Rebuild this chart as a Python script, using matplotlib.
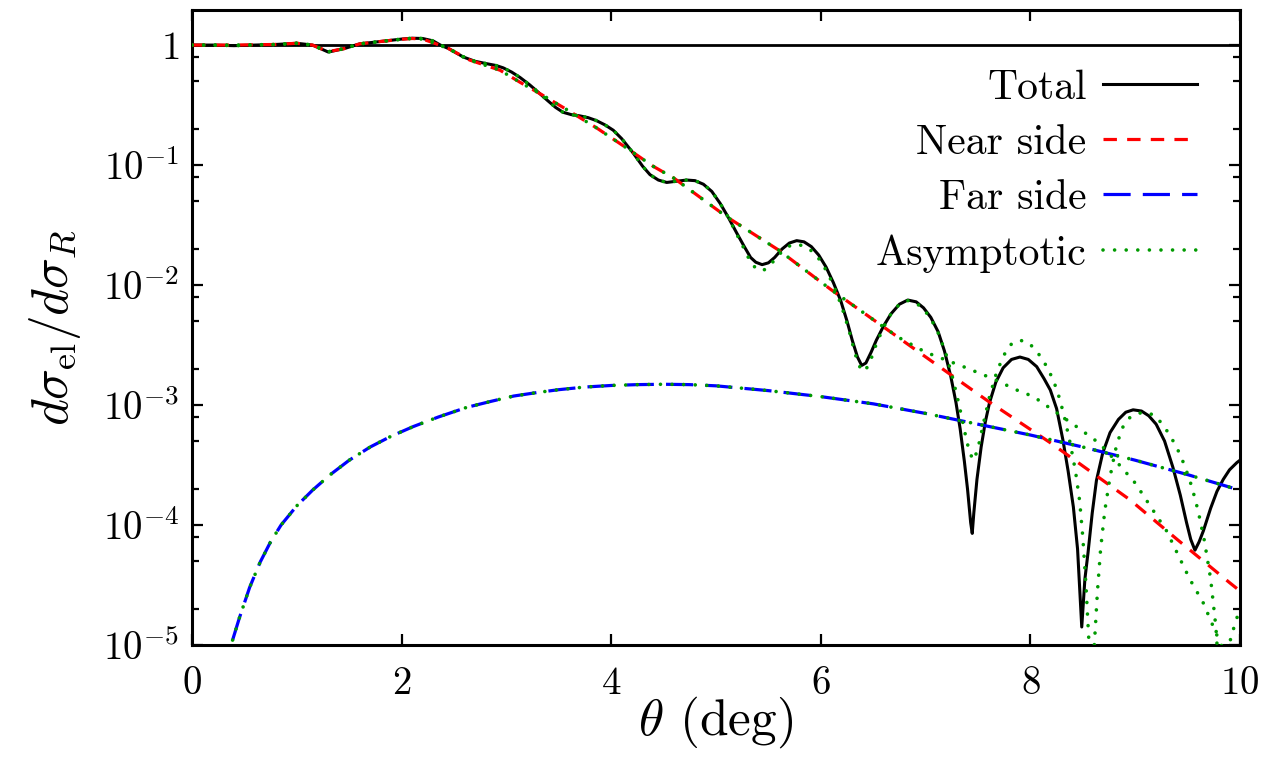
import numpy as np
import matplotlib
matplotlib.use("Agg")
import matplotlib.pyplot as plt
from matplotlib.ticker import FixedLocator, FuncFormatter, LogLocator, NullFormatter, NullLocator

plt.rcParams['font.family'] = 'serif'
plt.rcParams['font.serif'] = ['cmr10']
plt.rcParams['mathtext.fontset'] = 'cm'
plt.rcParams['axes.formatter.use_mathtext'] = True
plt.rcParams['axes.unicode_minus'] = False

# ---------------- data (log10 of dsigma_el/dsigma_R) ----------------
theta_total = [0.0, 0.2, 0.4, 0.6, 0.8, 1.0, 1.15, 1.3, 1.45, 1.6, 1.8, 2.0, 2.1, 2.2,
               2.3, 2.37, 2.45, 2.59, 2.7, 2.81, 2.9, 2.97, 3.05, 3.13, 3.22, 3.3, 3.39,
               3.47, 3.54, 3.62, 3.7, 3.78, 3.86, 3.94, 4.02, 4.1, 4.21, 4.3, 4.37, 4.45,
               4.53, 4.62, 4.72, 4.8, 4.88, 4.96, 5.04, 5.12, 5.2, 5.27, 5.33, 5.38, 5.44,
               5.5, 5.56, 5.63, 5.7, 5.77, 5.84, 5.91, 5.98, 6.05, 6.12, 6.19, 6.25, 6.3,
               6.35, 6.39, 6.43, 6.48, 6.53, 6.6, 6.67, 6.75, 6.83, 6.91, 6.98, 7.05, 7.12,
               7.18, 7.24, 7.29, 7.33, 7.37, 7.4, 7.43, 7.445, 7.46, 7.49, 7.53, 7.57, 7.61,
               7.67, 7.74, 7.82, 7.9, 7.98, 8.06, 8.13, 8.19, 8.25, 8.31, 8.36, 8.41, 8.45,
               8.49, 8.52, 8.55, 8.59, 8.63, 8.69, 8.76, 8.84, 8.91, 8.98, 9.06, 9.13, 9.2,
               9.28, 9.36, 9.43, 9.49, 9.53, 9.57, 9.61, 9.65, 9.72, 9.78, 9.84, 9.9, 9.97,
               10.0]
total_log10 = [0.0, 0.0, -0.005, 0.0, 0.005, 0.015, 0.0, -0.058, -0.03, 0.01, 0.03, 0.05,
               0.057, 0.055, 0.035, 0.0, -0.03, -0.1, -0.135, -0.155, -0.17, -0.19, -0.225,
               -0.27, -0.33, -0.39, -0.46, -0.52, -0.56, -0.58, -0.59, -0.605, -0.63,
               -0.665, -0.71, -0.78, -0.9, -1.01, -1.08, -1.125, -1.145, -1.135, -1.125,
               -1.13, -1.16, -1.22, -1.32, -1.44, -1.57, -1.68, -1.77, -1.81, -1.83, -1.815,
               -1.77, -1.7, -1.65, -1.63, -1.64, -1.68, -1.75, -1.85, -1.98, -2.13, -2.3,
               -2.46, -2.6, -2.67, -2.65, -2.56, -2.46, -2.34, -2.24, -2.16, -2.125, -2.14,
               -2.19, -2.27, -2.39, -2.55, -2.76, -2.98, -3.2, -3.47, -3.7, -3.98, -4.07,
               -3.9, -3.62, -3.35, -3.14, -2.98, -2.81, -2.69, -2.62, -2.6, -2.62, -2.68,
               -2.78, -2.875, -3.03, -3.29, -3.55, -3.85, -4.2, -4.85, -4.45, -4.23, -3.9,
               -3.63, -3.4, -3.23, -3.12, -3.06, -3.04, -3.05, -3.09, -3.16, -3.3, -3.52,
               -3.75, -3.98, -4.12, -4.21, -4.14, -4.05, -3.86, -3.72, -3.62, -3.54, -3.48,
               -3.46]

theta_near = [0.0, 0.4, 0.8, 1.0, 1.15, 1.3, 1.45, 1.6, 1.8, 2.0, 2.1, 2.2, 2.3, 2.45,
              2.65, 2.94, 3.13, 3.35, 3.58, 3.86, 4.15, 4.4, 4.6, 5.1, 5.6, 6.1, 6.6, 7.05,
              7.6, 8.2, 8.95, 9.4, 9.9, 10.0]
near_log10 = [0.0, 0.0, 0.005, 0.015, 0.0, -0.055, -0.03, 0.01, 0.03, 0.048, 0.055, 0.05,
              0.02, -0.03, -0.125, -0.21, -0.31, -0.42, -0.54, -0.69, -0.86, -1.01, -1.11,
              -1.43, -1.71, -2.04, -2.35, -2.63, -2.97, -3.32, -3.79, -4.12, -4.48, -4.55]

theta_far = [0.25, 0.3, 0.38, 0.45, 0.55, 0.65, 0.75, 0.85, 1.0, 1.15, 1.32, 1.5, 1.7,
             1.9, 2.11, 2.35, 2.62, 2.85, 3.07, 3.3, 3.5, 3.75, 4.0, 4.25, 4.5, 4.75, 5.0,
             5.5, 6.0, 6.5, 7.0, 7.5, 8.0, 8.5, 9.0, 9.5, 10.0]
far_log10 = [-5.6, -5.3, -4.98, -4.78, -4.52, -4.31, -4.14, -4.0, -3.84, -3.71, -3.58,
             -3.46, -3.35, -3.26, -3.18, -3.1, -3.02, -2.97, -2.925, -2.895, -2.872, -2.85,
             -2.837, -2.83, -2.827, -2.83, -2.84, -2.88, -2.93, -2.99, -3.07, -3.16,
             -3.25, -3.35, -3.46, -3.58, -3.71]

# asymptotic near side: identical to the near side up to 6.6 deg, then:
theta_asym_near_tail = [6.75, 7.0, 7.36, 7.64, 7.87, 8.03, 8.44, 8.66, 8.85, 9.0, 9.3,
                        9.52, 9.65, 9.79, 9.9]
asym_near_tail_log10 = [-2.44, -2.56, -2.68, -2.78, -2.875, -2.93, -3.18, -3.32, -3.5,
                        -3.65, -4.05, -4.45, -4.65, -4.94, -5.15]

# asymptotic total: identical to the total up to 5.1 deg, then:
theta_asym_tot_tail = [5.12, 5.2, 5.27, 5.33, 5.39, 5.45, 5.51, 5.57, 5.64, 5.71, 5.78,
                       5.85, 5.92, 5.99, 6.06, 6.13, 6.2, 6.27, 6.33, 6.38, 6.42, 6.47,
                       6.53, 6.6, 6.67, 6.75, 6.83, 6.91, 6.98, 7.05, 7.12, 7.19, 7.26,
                       7.32, 7.38, 7.42, 7.46, 7.5, 7.55, 7.61, 7.68, 7.75, 7.82, 7.89,
                       7.96, 8.03, 8.1, 8.17, 8.23, 8.28, 8.33, 8.38, 8.43, 8.47, 8.5,
                       8.53, 8.56, 8.58, 8.61, 8.64, 8.67, 8.71, 8.76, 8.81, 8.87, 8.94,
                       9.02, 9.11, 9.19, 9.26, 9.33, 9.4, 9.47, 9.54, 9.6, 9.66, 9.72,
                       9.77, 9.81, 9.86, 9.91, 9.96, 10.0]
asym_tot_tail_log10 = [-1.44, -1.58, -1.7, -1.81, -1.87, -1.88, -1.84, -1.78, -1.71,
                       -1.67, -1.66, -1.68, -1.72, -1.79, -1.89, -2.02, -2.18, -2.38,
                       -2.58, -2.7, -2.72, -2.64, -2.49, -2.35, -2.24, -2.16, -2.13,
                       -2.15, -2.2, -2.28, -2.4, -2.56, -2.78, -3.0, -3.25, -3.4, -3.46,
                       -3.36, -3.16, -2.93, -2.72, -2.58, -2.49, -2.46, -2.47, -2.52,
                       -2.6, -2.7, -2.82, -2.95, -3.12, -3.32, -3.55, -3.8, -4.1, -4.5,
                       -5.0, -5.4, -5.0, -4.55, -4.2, -3.88, -3.6, -3.38, -3.2, -3.11,
                       -3.07, -3.06, -3.09, -3.16, -3.25, -3.36, -3.5, -3.68, -3.88,
                       -4.13, -4.45, -4.85, -5.4, -5.2, -4.95, -4.8, -4.7]

xticks = [0, 2, 4, 6, 8, 10]
yticks = [1e-5, 1e-4, 1e-3, 1e-2, 1e-1, 1]

# ---------------- figure ----------------
fig = plt.figure(figsize=(12.71, 7.60), dpi=100)
ax = fig.add_axes([192/1271, 1 - 645/760, (1240-192)/1271, (645-10)/760])

t_tot = np.array(theta_total)
y_tot = 10.0 ** np.array(total_log10)
t_near = np.array(theta_near)
y_near = 10.0 ** np.array(near_log10)
t_far = np.array(theta_far)
y_far = 10.0 ** np.array(far_log10)

m_near = t_near <= 6.6
t_an = np.concatenate([t_near[m_near], theta_asym_near_tail])
y_an = np.concatenate([y_near[m_near], 10.0 ** np.array(asym_near_tail_log10)])
m_tot = t_tot < 5.1
t_at = np.concatenate([t_tot[m_tot], theta_asym_tot_tail])
y_at = np.concatenate([y_tot[m_tot], 10.0 ** np.array(asym_tot_tail_log10)])

green = '#009a00'
ax.axhline(1.0, color='black', lw=2.0, zorder=1)
ax.plot(t_tot, y_tot, color='black', lw=2.2, label='Total', zorder=3)
ax.plot(t_near, y_near, color='#ff0000', lw=2.3, linestyle=(0, (4.2, 3.2)),
        label='Near side', zorder=4)
ax.plot(t_far, y_far, color='#0000ff', lw=2.3, linestyle=(0, (8.5, 3.8)),
        label='Far side', zorder=4)
dot = (0, (0.01, 3.2))
ax.plot(t_at, y_at, color=green, lw=2.6, linestyle=dot, dash_capstyle='round',
        label='Asymptotic', zorder=5)
ax.plot(t_an, y_an, color=green, lw=2.6, linestyle=dot, dash_capstyle='round', zorder=5)
ax.plot(t_far, y_far, color=green, lw=2.6, linestyle=(4, (0.01, 3.2)),
        dash_capstyle='round', zorder=5)

ax.set_yscale('log')
ax.set_xlim(0, 10)
ax.set_ylim(1e-5, 1.96)
ax.xaxis.set_major_locator(FixedLocator(xticks))
ax.xaxis.set_minor_locator(NullLocator())
ax.yaxis.set_major_locator(FixedLocator(yticks))
ax.yaxis.set_minor_locator(LogLocator(base=10, subs=[2, 5, 8]))
ax.yaxis.set_minor_formatter(NullFormatter())


def yfmt(v, pos):
    e = int(round(np.log10(v)))
    if e == 0:
        return r'$1$'
    return r'$10^{%d}$' % e


ax.yaxis.set_major_formatter(FuncFormatter(yfmt))
ax.xaxis.set_major_formatter(FuncFormatter(lambda v, p: r'$%d$' % int(round(v))))

ax.tick_params(which='both', direction='in', top=True, right=True, labelsize=28,
               width=1.6, colors='black')
ax.tick_params(which='major', length=8)
ax.tick_params(axis='y', which='major', pad=9)
ax.tick_params(axis='x', which='major', pad=15)
ax.tick_params(which='minor', length=5)
for s in ax.spines.values():
    s.set_linewidth(2.2)

ax.set_xlabel(r'$\theta$ (deg)', fontsize=37, labelpad=-5)
ax.set_ylabel(r'$d\sigma_{\rm el}/d\sigma_R$', fontsize=37, labelpad=14)

leg = ax.legend(loc='upper right', frameon=False, fontsize=30, markerfirst=False,
                handlelength=2.25, handletextpad=0.4, labelspacing=0.42,
                borderaxespad=0.0, bbox_to_anchor=(0.975, 0.933))
for col in leg._legend_handle_box.get_children():
    col.align = 'right'

fig.savefig('out.png', dpi=100)
